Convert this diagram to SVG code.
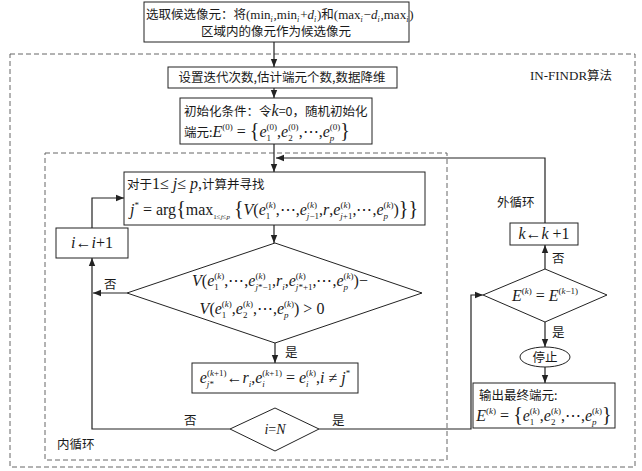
<svg xmlns="http://www.w3.org/2000/svg" width="642" height="471" viewBox="0 0 642 471">
<style>
.m{font-family:"Liberation Serif","DejaVu Serif",serif;font-size:16px;fill:#1a1a1a}
.i{font-style:italic}
.s{font-size:9px}
.br{font-size:20px}
.cn{font-family:"Noto Sans CJK SC",sans-serif;font-size:12.5px;fill:#1a1a1a}
.box{fill:#fff;stroke:#222;stroke-width:1}
.dash{fill:none;stroke:#666;stroke-width:1;stroke-dasharray:5 3}
.ln{fill:none;stroke:#222;stroke-width:1.2}
.mid{text-anchor:middle}
</style>
<defs>
<marker id="arr" viewBox="0 0 10 10" refX="10" refY="5" markerWidth="8" markerHeight="8" markerUnits="userSpaceOnUse" orient="auto">
<path d="M0,1 L10,5 L0,9 z" fill="#222"/>
</marker>
</defs>
<rect width="642" height="471" fill="#fff"/>

<g id="outer-loop-frame">
<rect class="dash" x="10" y="54" width="625" height="413"/>
<text x="530" y="80" class="m" style="font-size:13px">IN-FINDR<tspan class="cn" style="font-size:12.5px">算法</tspan></text>
</g>
<g id="inner-loop-frame">
<rect class="dash" x="45" y="153" width="402" height="307"/>
<text x="57" y="449" class="cn">内循环</text>
</g>

<g id="connectors">
<line class="ln" x1="274" y1="42" x2="274" y2="67" marker-end="url(#arr)"/>
<line class="ln" x1="274" y1="88" x2="274" y2="98" marker-end="url(#arr)"/>
<line class="ln" x1="274" y1="144" x2="274" y2="172" marker-end="url(#arr)"/>
<polyline class="ln" points="545,223 545,158 276,158" marker-end="url(#arr)"/>
<line class="ln" x1="274" y1="225" x2="274" y2="243" marker-end="url(#arr)"/>
<line class="ln" x1="127" y1="293" x2="93" y2="293" marker-end="url(#arr)"/>
<polyline class="ln" points="230,429 92,429 92,258" marker-end="url(#arr)"/>
<polyline class="ln" points="92,228 92,198 124,198" marker-end="url(#arr)"/>
<line class="ln" x1="275" y1="343" x2="275" y2="363" marker-end="url(#arr)"/>
<polyline class="ln" points="319,429 471,429 471,295 483,295" marker-end="url(#arr)"/>
<line class="ln" x1="545" y1="269" x2="545" y2="245" marker-end="url(#arr)"/>
<line class="ln" x1="545" y1="322" x2="545" y2="347" marker-end="url(#arr)"/>
<line class="ln" x1="545" y1="367" x2="545" y2="383" marker-end="url(#arr)"/>
<text x="104" y="289" class="cn">否</text>
<text x="285" y="357" class="cn">是</text>
<text x="184" y="425" class="cn">否</text>
<text x="332" y="425" class="cn">是</text>
<text x="552" y="263" class="cn">否</text>
<text x="552" y="337" class="cn">是</text>
<text x="497" y="207" class="cn">外循环</text>
</g>

<g id="n-select">
<rect class="box" x="144" y="2" width="265" height="40"/>
<text x="146" y="19" class="cn">选取候选像元：将<tspan class="m" style="font-size:13px">(min<tspan class="s i" dy="2.5" style="font-size:8px">i</tspan><tspan dx="0.8" dy="-2.5">,min</tspan><tspan class="s i" dy="2.5" style="font-size:8px">i</tspan><tspan dx="0.8" dy="-2.5">+</tspan><tspan class="i">d</tspan><tspan class="s i" dy="2.5" style="font-size:8px">i</tspan><tspan dx="0.8" dy="-2.5">)</tspan></tspan>和<tspan class="m" style="font-size:13px">(max<tspan class="s i" dy="2.5" style="font-size:8px">i</tspan><tspan dx="0.8" dy="-2.5">−</tspan><tspan class="i">d</tspan><tspan class="s i" dy="2.5" style="font-size:8px">i</tspan><tspan dx="0.8" dy="-2.5">,max</tspan><tspan class="s i" dy="2.5" style="font-size:8px">i</tspan><tspan dx="0.8" dy="-2.5">)</tspan></tspan></text>
<text x="276" y="36" class="cn mid">区域内的像元作为候选像元</text>
</g>

<g id="n-setup">
<rect class="box" x="168" y="67" width="229" height="21"/>
<text x="282" y="82" class="cn mid">设置迭代次数,估计端元个数,数据降维</text>
</g>

<g id="n-init">
<rect class="box" x="180" y="98" width="192" height="46"/>
<text x="184" y="116" class="cn">初始化条件：令<tspan class="m i">k</tspan>=0，随机初始化</text>
<text x="184" y="137" class="cn">端元:<tspan class="m i">E</tspan><tspan class="m s" dy="-7">(0)</tspan><tspan class="m" dy="7"> = </tspan><tspan class="m br">{</tspan><tspan class="m i">e</tspan><tspan class="m s" dy="4">1</tspan><tspan class="m s" dx="-4.5" dy="-11">(0)</tspan><tspan class="m" dy="7">,</tspan><tspan class="m i">e</tspan><tspan class="m s" dy="4">2</tspan><tspan class="m s" dx="-4.5" dy="-11">(0)</tspan><tspan class="m" dy="7">,⋯,</tspan><tspan class="m i">e</tspan><tspan class="m s i" dy="4">p</tspan><tspan class="m s" dx="-4.5" dy="-11">(0)</tspan><tspan class="m br" dy="7">}</tspan></text>
</g>

<g id="n-search">
<rect class="box" x="124" y="172" width="301" height="53"/>
<text x="127" y="189" class="cn">对于<tspan class="m">1≤ </tspan><tspan class="m i">j</tspan><tspan class="m">≤ </tspan><tspan class="m i">p</tspan><tspan class="m">,</tspan>计算并寻找</text>
<text x="130" y="215" class="m"><tspan class="i">j</tspan><tspan class="s" dy="-7">*</tspan><tspan dy="7"> = arg</tspan><tspan class="br">{</tspan>max<tspan class="s" dy="4" style="font-size:7px">1≤<tspan class="i">j</tspan>≤<tspan class="i">p</tspan></tspan><tspan dy="-4"> </tspan><tspan class="br">{</tspan><tspan class="i">V</tspan>(<tspan class="i">e</tspan><tspan class="s" dy="4">1</tspan><tspan class="s" dx="-4.5" dy="-11">(<tspan class="i">k</tspan>)</tspan><tspan dy="7">,⋯,</tspan><tspan class="i">e</tspan><tspan class="s" dy="4"><tspan class="i">j</tspan>−1</tspan><tspan class="s" dx="-12" dy="-11">(<tspan class="i">k</tspan>)</tspan><tspan dx="2" dy="7">,</tspan><tspan class="i">r</tspan>,<tspan class="i">e</tspan><tspan class="s" dy="4"><tspan class="i">j</tspan>+1</tspan><tspan class="s" dx="-12" dy="-11">(<tspan class="i">k</tspan>)</tspan><tspan dx="2" dy="7">,⋯,</tspan><tspan class="i">e</tspan><tspan class="s i" dy="4">p</tspan><tspan class="s" dx="-4.5" dy="-11">(<tspan class="i">k</tspan>)</tspan><tspan dy="7">)</tspan><tspan class="br">}}</tspan></text>
</g>

<g id="n-inc-i">
<rect class="box" x="56" y="228" width="72" height="30"/>
<text x="92" y="248" class="m mid"><tspan class="i">i</tspan>←<tspan class="i">i</tspan>+1</text>
</g>

<g id="n-cond">
<polygon class="box" points="127,293 275,243 422,293 275,343"/>
<text x="280" y="286" class="m mid"><tspan class="i">V</tspan>(<tspan class="i">e</tspan><tspan class="s" dy="4">1</tspan><tspan class="s" dx="-4.5" dy="-11">(<tspan class="i">k</tspan>)</tspan><tspan dy="7">,⋯,</tspan><tspan class="i">e</tspan><tspan class="s" dy="4"><tspan class="i">j</tspan>*−1</tspan><tspan class="s" dx="-16.6" dy="-11">(<tspan class="i">k</tspan>)</tspan><tspan dx="6.6" dy="7">,</tspan><tspan class="i">r</tspan><tspan class="s i" dy="4">i</tspan><tspan dy="-4">,</tspan><tspan class="i">e</tspan><tspan class="s" dy="4"><tspan class="i">j</tspan>*+1</tspan><tspan class="s" dx="-16.6" dy="-11">(<tspan class="i">k</tspan>)</tspan><tspan dx="6.6" dy="7">,⋯,</tspan><tspan class="i">e</tspan><tspan class="s i" dy="4">p</tspan><tspan class="s" dx="-4.5" dy="-11">(<tspan class="i">k</tspan>)</tspan><tspan dy="7">)−</tspan></text>
<text x="262" y="314" class="m mid"><tspan class="i">V</tspan>(<tspan class="i">e</tspan><tspan class="s" dy="4">1</tspan><tspan class="s" dx="-4.5" dy="-11">(<tspan class="i">k</tspan>)</tspan><tspan dy="7">,</tspan><tspan class="i">e</tspan><tspan class="s" dy="4">2</tspan><tspan class="s" dx="-4.5" dy="-11">(<tspan class="i">k</tspan>)</tspan><tspan dy="7">,⋯,</tspan><tspan class="i">e</tspan><tspan class="s i" dy="4">p</tspan><tspan class="s" dx="-4.5" dy="-11">(<tspan class="i">k</tspan>)</tspan><tspan dy="7">) &gt; 0</tspan></text>
</g>

<g id="n-update">
<rect class="box" x="192" y="363" width="166" height="30"/>
<text x="275" y="383" class="m mid"><tspan class="i">e</tspan><tspan class="s" dy="4"><tspan class="i">j</tspan>*</tspan><tspan class="s" dx="-7" dy="-11">(<tspan class="i">k</tspan>+1)</tspan><tspan dy="7">←</tspan><tspan class="i">r</tspan><tspan class="s i" dy="4">i</tspan><tspan dy="-4">,</tspan><tspan class="i">e</tspan><tspan class="s i" dy="4">i</tspan><tspan class="s" dx="-2.5" dy="-11">(<tspan class="i">k</tspan>+1)</tspan><tspan dy="7"> = </tspan><tspan class="i">e</tspan><tspan class="s i" dy="4">i</tspan><tspan class="s" dx="-2.5" dy="-11">(<tspan class="i">k</tspan>)</tspan><tspan dy="7">,</tspan><tspan class="i">i</tspan> ≠ <tspan class="i">j</tspan><tspan class="s" dy="-7">*</tspan></text>
</g>

<g id="n-i-eq-n">
<polygon class="box" points="230,429 275,408 319,429 275,451"/>
<text x="275" y="434" class="m mid" style="font-size:14px"><tspan class="i">i</tspan>=<tspan class="i">N</tspan></text>
</g>

<g id="n-conv">
<polygon class="box" points="483,295 545,269 607,295 545,322"/>
<text x="545" y="301" class="m mid"><tspan class="i">E</tspan><tspan class="s" dy="-7">(<tspan class="i">k</tspan>)</tspan><tspan dy="7"> = </tspan><tspan class="i">E</tspan><tspan class="s" dy="-7">(<tspan class="i">k</tspan>−1)</tspan></text>
</g>

<g id="n-inc-k">
<rect class="box" x="510" y="223" width="68" height="22"/>
<text x="544" y="239" class="m mid"><tspan class="i">k</tspan>←<tspan class="i">k</tspan> +1</text>
</g>

<g id="n-stop">
<ellipse class="box" cx="545" cy="357" rx="25" ry="10"/>
<text x="545" y="361.5" class="cn mid">停止</text>
</g>

<g id="n-output">
<rect class="box" x="473" y="383" width="142" height="45"/>
<text x="479" y="400" class="cn">输出最终端元:</text>
<text x="544" y="421" class="m mid"><tspan class="i">E</tspan><tspan class="s" dy="-7">(<tspan class="i">k</tspan>)</tspan><tspan dy="7"> = </tspan><tspan class="br">{</tspan><tspan class="i">e</tspan><tspan class="s" dy="4">1</tspan><tspan class="s" dx="-4.5" dy="-11">(<tspan class="i">k</tspan>)</tspan><tspan dy="7">,</tspan><tspan class="i">e</tspan><tspan class="s" dy="4">2</tspan><tspan class="s" dx="-4.5" dy="-11">(<tspan class="i">k</tspan>)</tspan><tspan dy="7">,⋯,</tspan><tspan class="i">e</tspan><tspan class="s i" dy="4">p</tspan><tspan class="s" dx="-4.5" dy="-11">(<tspan class="i">k</tspan>)</tspan><tspan class="br" dy="7">}</tspan></text>
</g>
</svg>
